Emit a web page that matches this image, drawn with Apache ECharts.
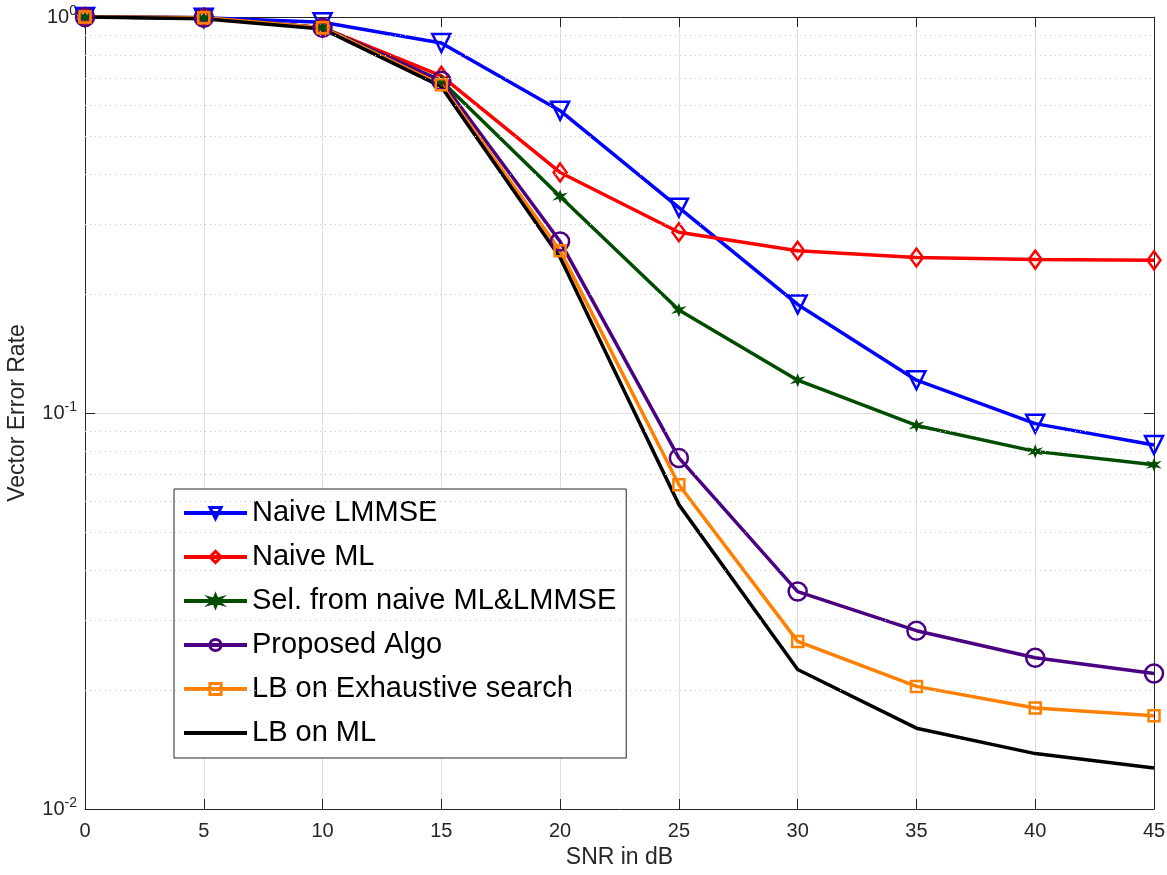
<!DOCTYPE html>
<html>
<head>
<meta charset="utf-8">
<script src="https://cdn.jsdelivr.net/npm/echarts@6/dist/echarts.min.js"></script>
<style>
  html, body { margin: 0; padding: 0; background: #fff; }
  #chart { width: 1167px; height: 875px; }
</style>
</head>
<body>
<div id="chart"></div>
<script>
const snr = [0, 5, 10, 15, 20, 25, 30, 35, 40, 45];

const naiveLmmse = [1.0, 0.995, 0.97, 0.86, 0.58, 0.33, 0.188, 0.121, 0.094, 0.083];
const naiveMl = [1.0, 0.995, 0.94, 0.71, 0.405, 0.286, 0.257, 0.247, 0.244, 0.243];
const selMlLmmse = [1.0, 0.995, 0.94, 0.69, 0.352, 0.182, 0.121, 0.093, 0.080, 0.074];
const proposed = [1.0, 0.995, 0.94, 0.69, 0.271, 0.077, 0.0354, 0.0282, 0.0241, 0.022];
const lbExhaustive = [1.0, 0.995, 0.94, 0.674, 0.257, 0.0659, 0.0265, 0.0204, 0.0180, 0.0172];
const lbMl = [1.0, 0.99, 0.933, 0.667, 0.247, 0.0587, 0.0225, 0.016, 0.0138, 0.0127];

const minorGrid = [0.02, 0.03, 0.04, 0.05, 0.06, 0.07, 0.08, 0.09,
                   0.2, 0.3, 0.4, 0.5, 0.6, 0.7, 0.8, 0.9];

const pairs = arr => arr.map((v, i) => [snr[i], v]);

const axisColor = '#262626';
const font = 'Liberation Sans, Arial, Helvetica, sans-serif';
const asterisk = 'path://M0,-10L2.5,-3L9,-5L4,0L9,5L2.5,3L0,10L-2.5,3L-9,5L-4,0L-9,-5L-2.5,-3Z';

function line(name, data, color, symbol, size, extra) {
  return Object.assign({
    name: name,
    type: 'line',
    data: pairs(data),
    symbol: symbol,
    symbolSize: size,
    color: color,
    lineStyle: { color: color, width: 3.5 },
    itemStyle: { color: 'rgba(255,255,255,0)', borderColor: color, borderWidth: 2.5 },
    emphasis: { disabled: true },
    animation: false,
    z: 3
  }, extra || {});
}

const chart = echarts.init(document.getElementById('chart'));

chart.setOption({
  backgroundColor: '#fff',
  animation: false,
  grid: { left: 85, right: 13, top: 17, bottom: 66, containLabel: false, outerBoundsMode: 'none' },
  legend: {
    orient: 'vertical',
    left: 174,
    top: 489,
    padding: [9, 10, 10, 8],
    backgroundColor: '#fff',
    borderColor: '#262626',
    borderWidth: 1,
    itemWidth: 63,
    itemHeight: 14,
    itemGap: 14,
    itemTextGap: 7,
    selectedMode: false,
    lineStyle: { width: 4 },
    itemStyle: { borderWidth: 3 },
    textStyle: { fontFamily: font, fontSize: 29, lineHeight: 30, color: '#000' },
    data: ['Naive LMMSE', 'Naive ML', 'Sel. from naive ML&LMMSE', 'Proposed Algo',
           'LB on Exhaustive search', 'LB on ML']
  },
  xAxis: [
    {
      type: 'value',
      min: 0,
      max: 45,
      interval: 5,
      name: 'SNR in dB',
      nameLocation: 'middle',
      nameGap: 37,
      nameTextStyle: { fontFamily: font, fontSize: 23, color: axisColor },
      axisLine: { onZero: false, lineStyle: { color: axisColor, width: 1 } },
      axisTick: { inside: true, length: 10, lineStyle: { color: axisColor } },
      axisLabel: { fontFamily: font, fontSize: 20, color: axisColor, margin: 12 },
      splitLine: { show: true, lineStyle: { color: '#dedede', width: 1 } }
    },
    {
      type: 'value',
      position: 'top',
      min: 0,
      max: 45,
      interval: 5,
      axisLine: { onZero: false, lineStyle: { color: axisColor, width: 1 } },
      axisTick: { inside: true, length: 10, lineStyle: { color: axisColor } },
      axisLabel: { show: false },
      splitLine: { show: false }
    }
  ],
  yAxis: [
    {
      type: 'log',
      logBase: 10,
      min: 0.01,
      max: 1,
      interval: 1,
      name: 'Vector Error Rate',
      nameLocation: 'middle',
      nameGap: 56,
      nameTextStyle: { fontFamily: font, fontSize: 23, color: axisColor },
      axisLine: { onZero: false, lineStyle: { color: axisColor, width: 1 } },
      axisTick: { inside: true, length: 10, lineStyle: { color: axisColor } },
      axisLabel: {
        margin: 8,
        formatter: v => '{b|10}{s|' + Math.round(Math.log10(v)) + '}',
        rich: {
          b: { fontFamily: font, fontSize: 20, color: axisColor },
          s: { fontFamily: font, fontSize: 14, color: axisColor, padding: [0, 0, 12, 0] }
        }
      },
      splitLine: { show: true, lineStyle: { color: '#dedede', width: 1 } }
    },
    {
      type: 'log',
      logBase: 10,
      min: 0.01,
      max: 1,
      interval: 1,
      position: 'right',
      axisLine: { onZero: false, lineStyle: { color: axisColor, width: 1 } },
      axisTick: { inside: true, length: 10, lineStyle: { color: axisColor } },
      axisLabel: { show: false },
      splitLine: { show: false }
    }
  ],
  series: [
    {
      name: 'minor grid',
      type: 'line',
      data: [],
      silent: true,
      z: 1,
      markLine: {
        silent: true,
        symbol: 'none',
        animation: false,
        label: { show: false },
        lineStyle: { color: '#c4c4c4', width: 1, type: [1, 4] },
        data: minorGrid.map(v => ({ yAxis: v }))
      }
    },
    line('Naive LMMSE', naiveLmmse, '#0000ff', 'triangle', 18, { symbolRotate: 180 }),
    line('Naive ML', naiveMl, '#ff0000', 'diamond', [13, 18]),
    line('Sel. from naive ML&LMMSE', selMlLmmse, '#004d00', asterisk, 10,
      { itemStyle: { color: '#004d00', borderColor: '#004d00', borderWidth: 1.5 } }),
    line('Proposed Algo', proposed, '#4b0082', 'circle', 18),
    line('LB on Exhaustive search', lbExhaustive, '#ff8000', 'rect', 11),
    line('LB on ML', lbMl, '#000000', 'circle', 0,
      { showSymbol: false, itemStyle: { color: 'rgba(0,0,0,0)', borderColor: 'rgba(0,0,0,0)', borderWidth: 0 } })
  ]
});
</script>
</body>
</html>
